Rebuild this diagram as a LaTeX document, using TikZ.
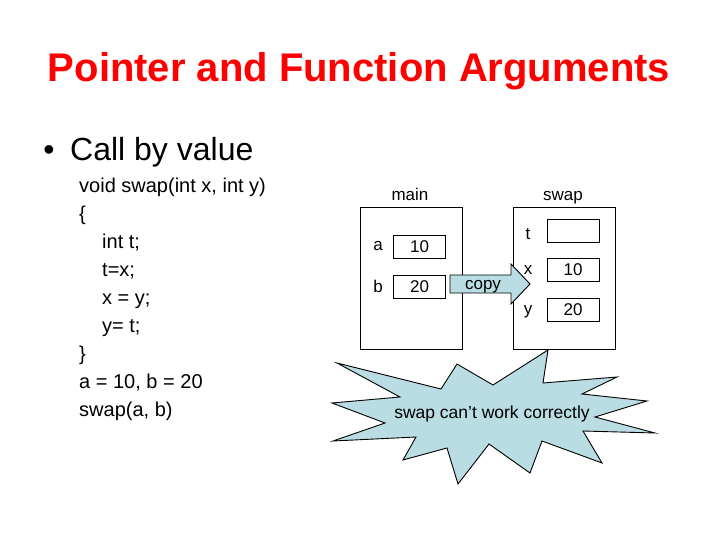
\documentclass[tikz,border=0pt]{standalone}
\usepackage{fontspec}
\setmainfont{Liberation Sans}
\usepackage{xcolor}
\usetikzlibrary{positioning}
\definecolor{titlered}{RGB}{255,0,0}
\definecolor{burstblue}{RGB}{185,221,226}

\begin{document}
\begin{tikzpicture}[
  x=1pt, y=-1pt,
  every node/.style={font=\fontsize{17}{20}\selectfont, inner sep=0pt},
  frame/.style={draw, line width=0.9pt, minimum width=102pt, minimum height=142pt},
  cell/.style={draw, line width=0.9pt, minimum width=52pt, minimum height=23pt},
  lbl/.style={anchor=base},
  code/.style={anchor=base west, font=\fontsize{20}{24}\selectfont},
  blockarrow/.style={draw, line width=0.9pt, fill=burstblue, line join=miter},
  callout/.style={draw, line width=0.9pt, fill=burstblue, line join=miter}]
  \useasboundingbox (0,0) rectangle (720,540);
  % heading
  \node[anchor=base, text=titlered, font=\fontsize{40}{48}\selectfont\bfseries] (title) at (359,82) {Pointer and Function Arguments};
  \node[anchor=base, font=\fontsize{32}{38}\selectfont] (bul) at (49,161) {\textbullet};
  \node[anchor=base west, font=\fontsize{32}{38}\selectfont] (callval) at (70,161) {Call by value};
  % code listing
  \node[code] (l1) at (79,193)   {void swap(int x, int y)};
  \node[code] (l2) at (79,220.9) {\{};
  \node[code] (l3) at (102,248.8) {int t;};
  \node[code] (l4) at (102,276.7) {t=x;};
  \node[code] (l5) at (102,304.6) {x = y;};
  \node[code] (l6) at (102,332.5) {y= t;};
  \node[code] (l7) at (79,360.4) {\}};
  \node[code] (l8) at (79,388.3) {a = 10, b = 20};
  \node[code] (l9) at (79,416.2) {swap(a, b)};
  % main frame
  \node[frame] (frmMain) at (411,278) {};
  \node[lbl] (hdMain) at (410,201) {main};
  \node[cell] (cellA) at (419.5,247)   {10};
  \node[cell] (cellB) at (419.5,286.5) {20};
  \node[lbl] (labA) at (378,251) {a};
  \node[lbl] (labB) at (378,292) {b};
  % swap frame
  \node[frame] (frmSwap) at (564,278) {};
  \node[lbl] (hdSwap) at (563,201) {swap};
  \node[cell] (cellT) at (573,230.5) {};
  \node[cell] (cellX) at (573,269.5) {10};
  \node[cell] (cellY) at (573,309.5) {20};
  \node[lbl] (labT) at (528,240) {t};
  \node[lbl] (labX) at (528,274) {x};
  \node[lbl] (labY) at (528,314) {y};
  % copy arrow
  \coordinate (cpTail) at (450,284);
  \coordinate (cpTip)  at (530,284);
  \draw[blockarrow] (cpTail) ++(0,-9) -- ++(61,0) -- ++(0,-11) -- (cpTip)
    -- ++(-19,20) -- ++(0,-11) -- ++(-61,0) -- cycle;
  \node[lbl] (cpText) at (483,289) {copy};
  % explosion
  \draw[callout] (337,363) -- (441,389) -- (457,364) -- (493,385) -- (548,350)
    -- (543,383) -- (617,377) -- (582,394) -- (647,401) -- (595,417)
    -- (655,433) -- (583,431) -- (602,463) -- (542,441) -- (530,473)
    -- (489,444) -- (458,484) -- (447,448) -- (403,460) -- (416,437)
    -- (333,441) -- (385,423) -- (332,403) -- (400,397) -- cycle;
  \node[lbl, font=\fontsize{17.5}{21}\selectfont] (msg) at (492,418) {swap can’t work correctly};
\end{tikzpicture}
\end{document}
